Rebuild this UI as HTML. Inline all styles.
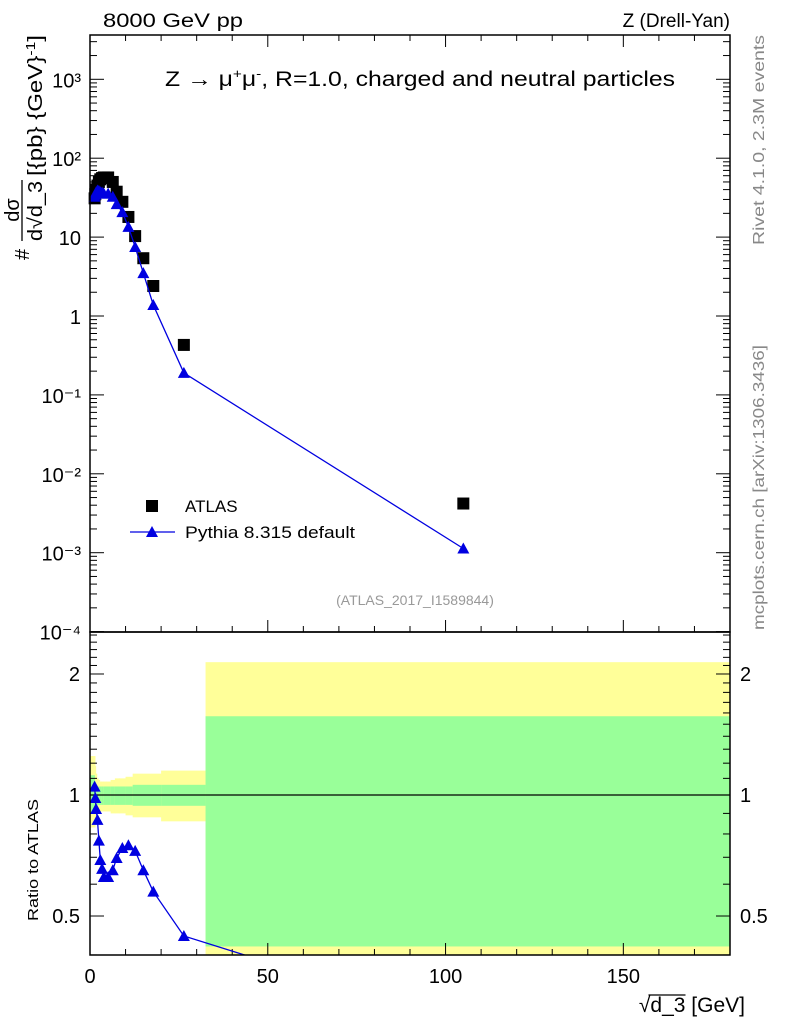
<!DOCTYPE html>
<html><head><meta charset="utf-8"><style>
html,body{margin:0;padding:0;background:#fff;}
svg{display:block;font-family:"Liberation Sans",sans-serif;}
</style></head><body>
<svg id="chart" width="786" height="1024" viewBox="0 0 786 1024" xmlns="http://www.w3.org/2000/svg">
<g id="bands"></g>
<g id="ticks"></g>
<g id="marks"></g>
<rect x="90" y="35" width="640" height="597" fill="none" stroke="#000" stroke-width="1.5"/>
<rect x="90" y="632" width="640" height="323" fill="none" stroke="#000" stroke-width="1.5"/>
<text x="103" y="27" font-size="19" textLength="140" lengthAdjust="spacingAndGlyphs">8000 GeV pp</text>
<text x="730" y="27" font-size="19" text-anchor="end">Z (Drell-Yan)</text>
<text x="165" y="86" font-size="21" textLength="510" lengthAdjust="spacingAndGlyphs">Z → μ<tspan font-size="13" dy="-8">+</tspan><tspan dy="8">μ</tspan><tspan font-size="13" dy="-8">-</tspan><tspan dy="8">, R=1.0, charged and neutral particles</tspan></text>
<text x="415" y="605" font-size="14" fill="#999" text-anchor="middle">(ATLAS_2017_I1589844)</text>
<text transform="translate(764,245) rotate(-90)" font-size="16" fill="#888" textLength="210" lengthAdjust="spacingAndGlyphs">Rivet 4.1.0,  2.3M events</text>
<text transform="translate(764,630) rotate(-90)" font-size="16" fill="#888" textLength="285" lengthAdjust="spacingAndGlyphs">mcplots.cern.ch [arXiv:1306.3436]</text>
<g font-size="20">
<text transform="translate(29,260) rotate(-90)">#</text>
<text transform="translate(19,210) rotate(-90)" text-anchor="middle">dσ</text>
<line x1="22" y1="241" x2="22" y2="180" stroke="#000" stroke-width="1.3"/>
<text transform="translate(42,241) rotate(-90)" textLength="60" lengthAdjust="spacingAndGlyphs">d√d_3</text>
<text transform="translate(42,176) rotate(-90)" textLength="141" lengthAdjust="spacingAndGlyphs">[{pb} {GeV}<tspan font-size="13" dy="-7">-1</tspan><tspan dy="7">]</tspan></text>
</g>
<text transform="translate(38,860) rotate(-90)" font-size="15" text-anchor="middle" textLength="122" lengthAdjust="spacingAndGlyphs">Ratio to ATLAS</text>
<text id="xtitle" x="745" y="1012" font-size="21" text-anchor="end">√d_3 [GeV]</text>
<line id="xover" x1="632" y1="992" x2="660" y2="992" stroke="#000" stroke-width="1.3"/>
<g>
<rect x="146" y="500" width="12" height="12" fill="#000"/>
<text x="185" y="512" font-size="17">ATLAS</text>
<line x1="130" y1="532" x2="175" y2="532" stroke="#0000e0" stroke-width="1.3"/>
<polygon points="152,526 158,537 146,537" fill="#0000e0"/>
<text x="185" y="538" font-size="17" textLength="170" lengthAdjust="spacingAndGlyphs">Pythia 8.315 default</text>
</g>
</svg>
<script>
const xVals = [1.3,1.5,1.7,2.1,2.5,2.9,3.4,3.9,5.1,6.4,7.5,9.1,10.8,12.7,15.0,17.8,26.4,105];
const atlasVals = [31,35,40,45,50,54,56,57,57,50,37.6,28,18,10.3,5.4,2.4,0.43,0.0042];
const pythiaVals = [32.5,34.4,36.9,39,38.5,37.2,36.7,35.6,35.6,32.5,26.2,20.7,13.5,7.5,3.5,1.38,0.19,0.00113];
const ratioVals = [1.049,0.983,0.923,0.867,0.77,0.689,0.655,0.625,0.625,0.65,0.697,0.738,0.75,0.726,0.65,0.575,0.446,0.27];
const binEdges = [0,1.4,1.6,1.9,2.3,2.7,3.2,3.7,4.5,5.8,7,8.3,10,12,20,32.5,180];
const statUp = [1.12,1.08,1.06,1.05,1.05,1.05,1.05,1.05,1.05,1.05,1.05,1.05,1.05,1.06,1.06,1.57];
const statDn = [0.9,0.93,0.94,0.945,0.945,0.945,0.945,0.945,0.945,0.945,0.945,0.945,0.945,0.94,0.94,0.42];
const totUp = [1.25,1.18,1.13,1.1,1.09,1.08,1.08,1.08,1.08,1.09,1.1,1.1,1.11,1.13,1.15,2.14];
const totDn = [0.83,0.86,0.89,0.9,0.91,0.91,0.91,0.91,0.91,0.9,0.9,0.9,0.89,0.88,0.86,0.38];
const xTicks = [0,50,100,150];
const mainTicks = [-4,-3,-2,-1,0,1,2,3];
const mainTickLabels = ["10\u207B\u2074","10\u207B\u00B3","10\u207B\u00B2","10\u207B\u00B9","1","10","10\u00B2","10\u00B3"];
const ratioTicks = [0.5,1,2];

const NS="http://www.w3.org/2000/svg";
const X0=90,X1=730,XMAX=180;
const sx=v=>X0+(v/XMAX)*(X1-X0);
const sy=v=>316-78.9*Math.log10(v);
const ry=v=>795-402*Math.log10(v);
function mk(tag,attrs,parent){const e=document.createElementNS(NS,tag);for(const k in attrs)e.setAttribute(k,attrs[k]);parent.appendChild(e);return e;}
const bands=document.getElementById('bands'),ticks=document.getElementById('ticks'),marks=document.getElementById('marks');
const clampR=v=>Math.min(955,Math.max(632,v));
for(let i=0;i<statUp.length;i++){
  const x=sx(binEdges[i]),w=sx(binEdges[i+1])-x;
  const y1=mk('rect',{x:x,y:clampR(ry(totUp[i])),width:w+0.5,height:clampR(ry(totDn[i]))-clampR(ry(totUp[i])),fill:'#ffff99'},bands);
  
  
  const g=mk('rect',{x:x,y:clampR(ry(statUp[i])),width:w+0.5,height:clampR(ry(statDn[i]))-clampR(ry(statUp[i])),fill:'#99ff99'},bands);
  
  
}
mk('line',{x1:X0,x2:X1,y1:ry(1),y2:ry(1),stroke:'#000','stroke-width':1.2},bands);
for(let v=0;v<=XMAX;v+=10){
  const maj=v%50===0,L=maj?12:6,x=sx(v);
  for(const yb of [632,955]){
    mk('line',{x1:x,x2:x,y1:yb,y2:yb-L,stroke:'#000'},ticks);
  }
  mk('line',{x1:x,x2:x,y1:35,y2:35+L,stroke:'#000'},ticks);
}
xTicks.forEach(v=>{const t=mk('text',{x:sx(v),y:983,'font-size':20,'text-anchor':'middle'},ticks);t.textContent=v;
  
  });
mainTicks.forEach((d,i)=>{
  const y=316-78.9*d;
  [[X0,1],[X1,-1]].forEach(([xb,s])=>mk('line',{x1:xb,x2:xb+s*14,y1:y,y2:y,stroke:'#000'},ticks));
  for(let m=2;m<=9;m++){const yy=y-78.9*Math.log10(m);if(yy<35)break;
    [[X0,1],[X1,-1]].forEach(([xb,s])=>mk('line',{x1:xb,x2:xb+s*7,y1:yy,y2:yy,stroke:'#000'},ticks));}
  const t=mk('text',{x:81,y:y+8,'font-size':20,'text-anchor':'end'},ticks);t.textContent=mainTickLabels[i];
  
  
});
for(let k=4;k<=25;k++){const v=k/10;const y=ry(v);if(y<632||y>955)continue;
  const maj=ratioTicks.includes(v),L=maj?14:7;
  [[X0,1],[X1,-1]].forEach(([xb,s])=>mk('line',{x1:xb,x2:xb+s*L,y1:y,y2:y,stroke:'#000'},ticks));}
ratioTicks.forEach(v=>{const y=ry(v);
  const t=mk('text',{x:80,y:y+7,'font-size':20,'text-anchor':'end'},ticks);t.textContent=v;
  
  
  const t2=mk('text',{x:740,y:y+7,'font-size':20},ticks);t2.textContent=v;
  
  });
atlasVals.forEach((v,i)=>{const r=mk('rect',{x:sx(xVals[i])-6,y:sy(v)-6,width:12,height:12,fill:'#000'},marks);
  
  });
const tri=(x,y)=>`${x},${y-6} ${x+6},${y+5} ${x-6},${y+5}`;
const pl=mk('polyline',{points:xVals.map((x,i)=>sx(x)+','+sy(pythiaVals[i])).join(' '),fill:'none',stroke:'#0000e0','stroke-width':1.3},marks);


pythiaVals.forEach((v,i)=>{const p=mk('polygon',{points:tri(sx(xVals[i]),sy(v)),fill:'#0000e0'},marks);
  
  });
const cp=mk('clipPath',{id:'rc'},marks);mk('rect',{x:X0,y:632,width:640,height:323},cp);
const rg=mk('g',{'clip-path':'url(#rc)'},marks);
const rl=mk('polyline',{points:xVals.map((x,i)=>sx(x)+','+ry(ratioVals[i])).join(' '),fill:'none',stroke:'#0000e0','stroke-width':1.3},rg);


ratioVals.forEach((v,i)=>{const p=mk('polygon',{points:tri(sx(xVals[i]),ry(v)),fill:'#0000e0'},rg);
  
  });
try{
  const xt=document.getElementById('xtitle'),ov=document.getElementById('xover');
  const bb=xt.getBBox();
  const s1=xt.getSubStringLength(0,1),s2=xt.getSubStringLength(1,3);
  ov.setAttribute('x1',bb.x+s1-2);ov.setAttribute('x2',bb.x+s1+s2);
  ov.setAttribute('y1',bb.y+1);ov.setAttribute('y2',bb.y+1);
}catch(e){}
</script>
</body></html>
